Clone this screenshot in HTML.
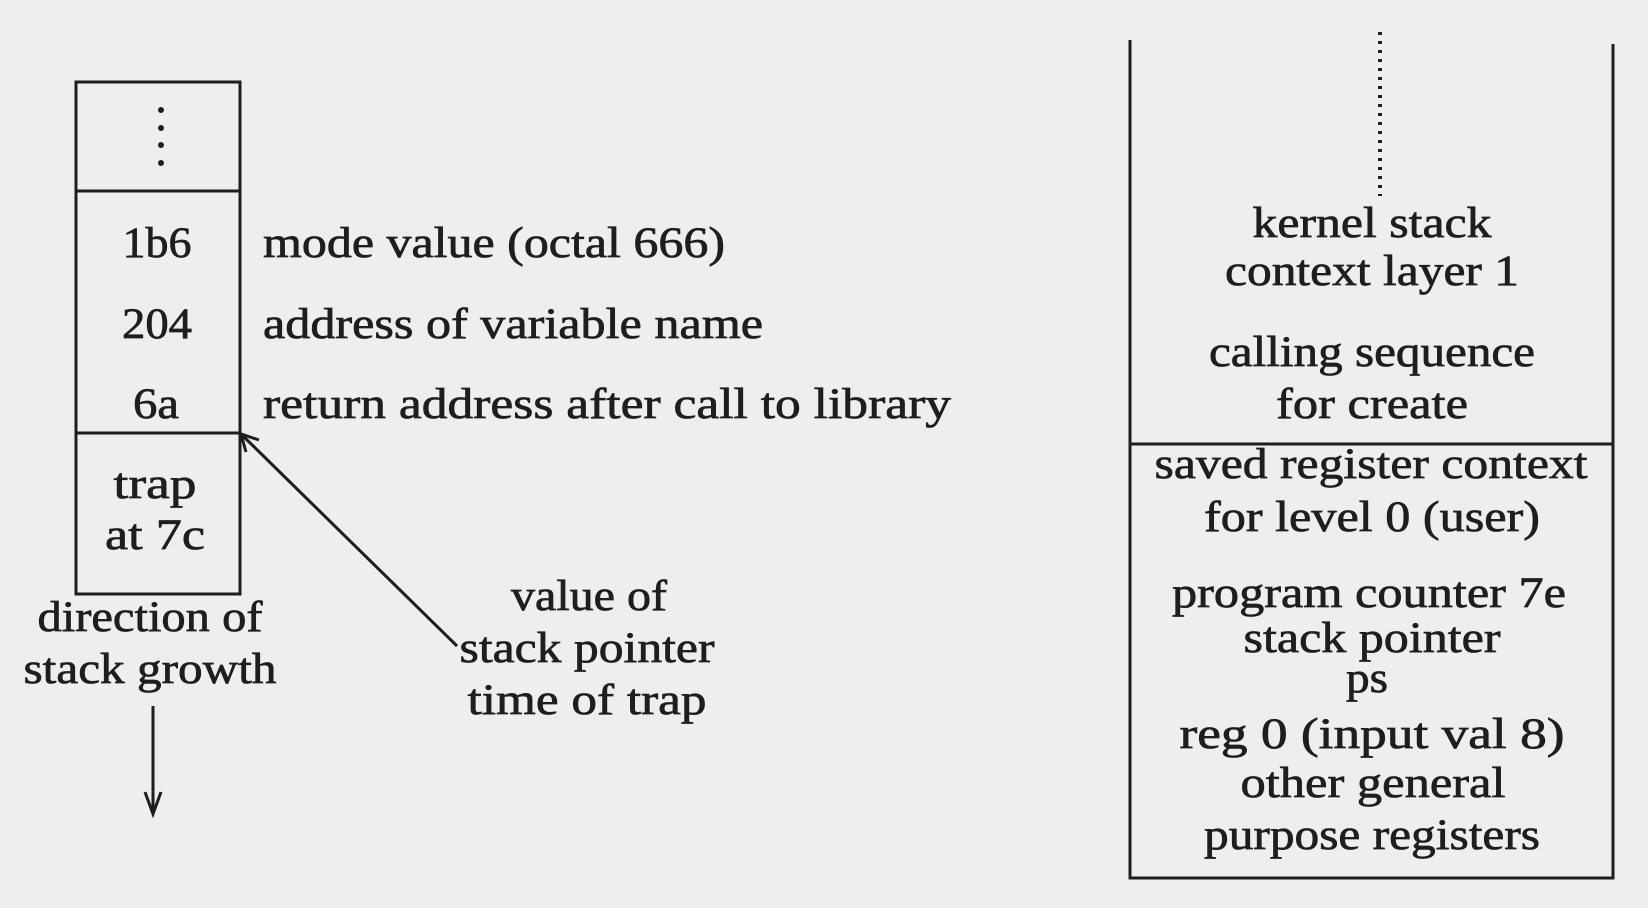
<!DOCTYPE html>
<html><head><meta charset="utf-8"><style>
html,body{margin:0;padding:0;background:#eeeeec;}
svg{display:block}
text{font-family:"Liberation Serif",serif;font-size:43px;fill:#1e1e1e;stroke:#1e1e1e;stroke-width:0.7;}
</style></head><body>
<svg width="1648" height="908" viewBox="0 0 1648 908">
<rect width="1648" height="908" fill="#eeeeec"/>
<g stroke="#1e1e1e" stroke-width="3" fill="none">
<rect x="76" y="82" width="164" height="512"/>
<line x1="76" y1="191" x2="240" y2="191"/>
<line x1="76" y1="433" x2="240" y2="433"/>
</g>
<g fill="#1e1e1e">
<circle cx="161" cy="110" r="3"/><circle cx="161" cy="128" r="3"/><circle cx="161" cy="145" r="3"/><circle cx="161" cy="163" r="3"/>
</g>
<g text-anchor="middle" lengthAdjust="spacingAndGlyphs">
<text x="157" y="257" textLength="69" lengthAdjust="spacingAndGlyphs">1b6</text>
<text x="157" y="338" textLength="70" lengthAdjust="spacingAndGlyphs">204</text>
<text x="156" y="418" textLength="46" lengthAdjust="spacingAndGlyphs">6a</text>
<text x="155" y="498" textLength="83" lengthAdjust="spacingAndGlyphs">trap</text>
<text x="155" y="549" textLength="100" lengthAdjust="spacingAndGlyphs">at 7c</text>
<text x="150" y="631" textLength="225" lengthAdjust="spacingAndGlyphs">direction of</text>
<text x="150" y="683" textLength="253" lengthAdjust="spacingAndGlyphs">stack growth</text>
<text x="589" y="610" textLength="156" lengthAdjust="spacingAndGlyphs">value of</text>
<text x="587" y="662" textLength="255" lengthAdjust="spacingAndGlyphs">stack pointer</text>
<text x="587" y="714" textLength="239" lengthAdjust="spacingAndGlyphs">time of trap</text>
</g>
<text x="263" y="257" textLength="462" lengthAdjust="spacingAndGlyphs">mode value (octal 666)</text>
<text x="263" y="338" textLength="500" lengthAdjust="spacingAndGlyphs">address of variable name</text>
<text x="263" y="418" textLength="688" lengthAdjust="spacingAndGlyphs">return address after call to library</text>
<g stroke="#1e1e1e" stroke-width="3" fill="none">
<line x1="153" y1="706" x2="153" y2="812"/>
<polyline points="145,792 153,814 161,792"/>
<line x1="242" y1="435" x2="457" y2="646"/>
<polyline points="246,452 241,434 259,440"/>
</g>
<g stroke="#1e1e1e" stroke-width="3" fill="none">
<polyline points="1130,40 1130,878 1613,878 1613,44"/>
<line x1="1130" y1="444" x2="1613" y2="444"/>
<line x1="1380" y1="32" x2="1380" y2="196" stroke-dasharray="3 6" stroke-width="4"/>
</g>
<g text-anchor="middle">
<text x="1372" y="237" textLength="239" lengthAdjust="spacingAndGlyphs">kernel stack</text>
<text x="1372" y="285" textLength="294" lengthAdjust="spacingAndGlyphs">context layer 1</text>
<text x="1372" y="366" textLength="326" lengthAdjust="spacingAndGlyphs">calling sequence</text>
<text x="1372" y="418" textLength="192" lengthAdjust="spacingAndGlyphs">for create</text>
<text x="1371" y="478" textLength="433" lengthAdjust="spacingAndGlyphs">saved register context</text>
<text x="1372" y="531" textLength="336" lengthAdjust="spacingAndGlyphs">for level 0 (user)</text>
<text x="1369" y="607" textLength="394" lengthAdjust="spacingAndGlyphs">program counter 7e</text>
<text x="1372" y="652" textLength="257" lengthAdjust="spacingAndGlyphs">stack pointer</text>
<text x="1367" y="692" textLength="42" lengthAdjust="spacingAndGlyphs">ps</text>
<text x="1372" y="748" textLength="385" lengthAdjust="spacingAndGlyphs">reg 0  (input val 8)</text>
<text x="1373" y="797" textLength="265" lengthAdjust="spacingAndGlyphs">other general</text>
<text x="1372" y="849" textLength="336" lengthAdjust="spacingAndGlyphs">purpose registers</text>
</g>
</svg>
</body></html>
